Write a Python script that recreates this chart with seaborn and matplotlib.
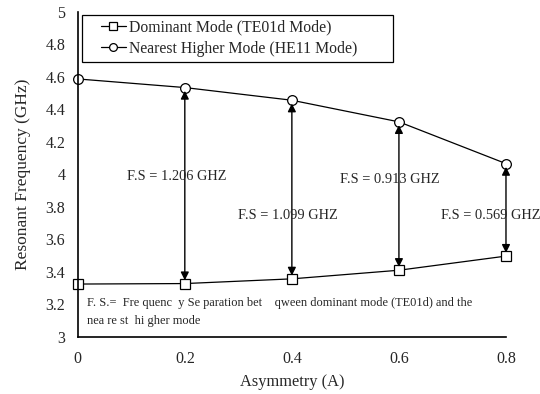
import matplotlib
matplotlib.use("Agg")
import matplotlib.pyplot as plt
import seaborn as sns
import pandas as pd
from matplotlib.lines import Line2D
from matplotlib.legend_handler import HandlerLine2D

asymmetry = [0.0, 0.2, 0.4, 0.6, 0.8]
dominant = [3.325, 3.328, 3.357, 3.410, 3.497]
higher = [4.587, 4.534, 4.456, 4.323, 4.066]
fs_labels = ["F.S = 1.206 GHZ", "F.S = 1.099 GHZ", "F.S = 0.913 GHZ", "F.S = 0.569 GHZ"]
fs_label_x = [0.184, 0.393, 0.583, 0.772]
fs_label_y = [3.985, 3.745, 3.970, 3.745]
series_names = ["Dominant Mode (TE01d Mode)", "Nearest Higher Mode (HE11 Mode)"]
y_ticks = [3, 3.2, 3.4, 3.6, 3.8, 4, 4.2, 4.4, 4.6, 4.8, 5]
y_tick_labels = ["3", "3.2", "3.4", "3.6", "3.8", "4", "4.2", "4.4", "4.6", "4.8", "5"]
x_ticks = [0, 0.2, 0.4, 0.6, 0.8]
x_tick_labels = ["0", "0.2", "0.4", "0.6", "0.8"]
note_line1 = "F. S.=  Fre quenc  y Se paration bet    qween dominant mode (TE01d) and the"
note_line2 = "nea re st  hi gher mode"

sns.set_style("white")
plt.rcParams['font.family'] = ['Liberation Serif', 'DejaVu Serif']

fig = plt.figure(figsize=(5.4, 3.94), dpi=100)
ax = fig.add_axes([0.144, 0.145, 0.793, 0.825])

df_dom = pd.DataFrame({"A": asymmetry, "f": dominant})
df_high = pd.DataFrame({"A": asymmetry, "f": higher})
sns.lineplot(data=df_dom, x="A", y="f", ax=ax, color="black", lw=0.9, marker="s",
             markersize=6.5, markerfacecolor="white", markeredgecolor="black",
             markeredgewidth=0.9, label=series_names[0])
sns.lineplot(data=df_high, x="A", y="f", ax=ax, color="black", lw=0.9, marker="o",
             markersize=7, markerfacecolor="white", markeredgecolor="black",
             markeredgewidth=0.9, label=series_names[1])

for i in range(1, len(asymmetry)):
    ax.annotate("", xy=(asymmetry[i], dominant[i] + 0.02), xytext=(asymmetry[i], higher[i] - 0.02),
                arrowprops=dict(arrowstyle="<|-|>", color="black", lw=1.0,
                                mutation_scale=12, shrinkA=0, shrinkB=0))

for lbl, lx, ly in zip(fs_labels, fs_label_x, fs_label_y):
    ax.text(lx, ly, lbl, ha="center", va="center", fontsize=10.4)

ax.text(0.018, 3.21, note_line1, ha="left", va="center", fontsize=8.9)
ax.text(0.018, 3.10, note_line2, ha="left", va="center", fontsize=8.9)

ax.set_xlim(0, 0.8)
ax.set_ylim(3, 5)
ax.set_xticks(x_ticks)
ax.set_xticklabels(x_tick_labels)
ax.set_yticks(y_ticks)
ax.set_yticklabels(y_tick_labels)
ax.tick_params(axis="both", direction="out", length=4, width=1, labelsize=11.5, color="black")
ax.tick_params(axis="x", pad=6)
ax.tick_params(axis="y", pad=5)
for s in ["top", "right"]:
    ax.spines[s].set_visible(False)
for s in ["left", "bottom"]:
    ax.spines[s].set_color("black")
    ax.spines[s].set_linewidth(1.2)
ax.set_xlabel("Asymmetry (A)", fontsize=11.8, labelpad=5)
ax.set_ylabel("Resonant Frequency (GHz)", fontsize=12.5, labelpad=10)
for line in ax.lines:
    line.set_clip_on(False)

leg = ax.legend(loc="upper left", bbox_to_anchor=(0.0093, 0.5, 0.727, 0.491), mode="expand",
                fancybox=False, framealpha=1, edgecolor="black", fontsize=11.3,
                handlelength=2.5, borderpad=0.3, labelspacing=0.35, handletextpad=0.2,
                borderaxespad=0, markerscale=0.8,
                handler_map={Line2D: HandlerLine2D(xpad=0.9)})
leg.get_frame().set_linewidth(0.9)

fig.savefig("out.png", dpi=100)
